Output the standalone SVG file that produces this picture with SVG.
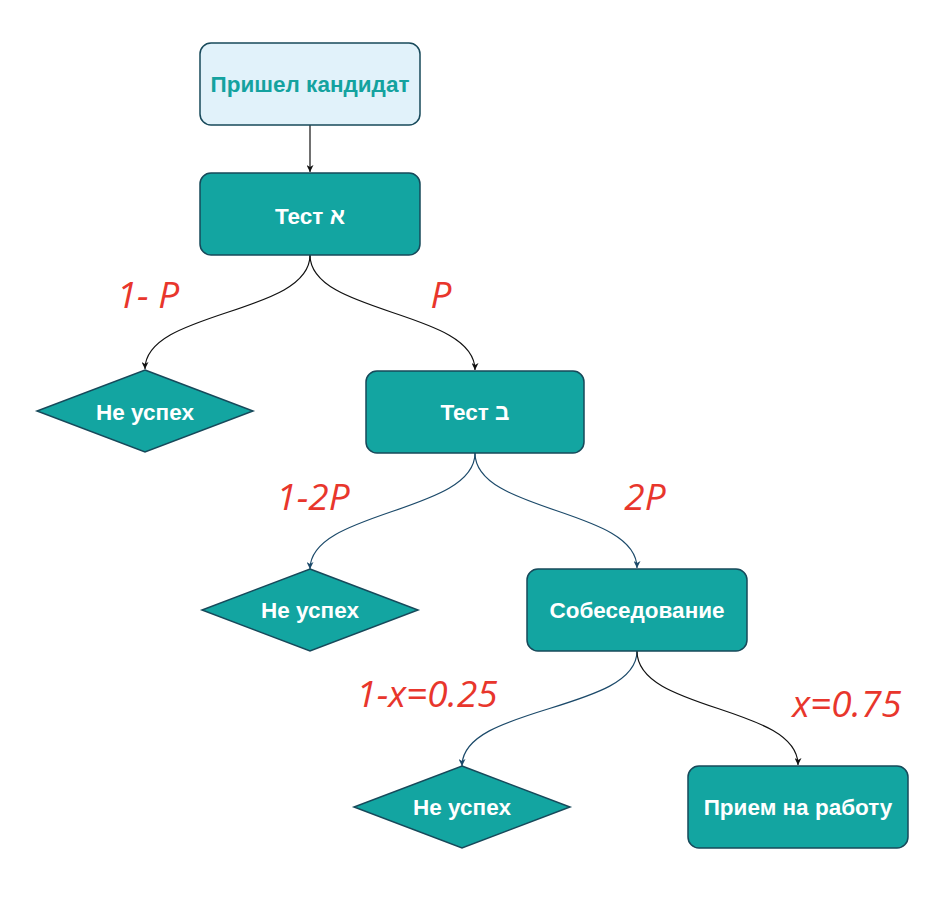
<svg xmlns="http://www.w3.org/2000/svg" width="948" height="897" viewBox="0 0 948 897">
<style>
.box{fill:#13a5a1;stroke:#17495a;stroke-width:1.5}
.start{fill:#e1f2fa;stroke:#17495a;stroke-width:1.5}
.t{font-family:"Liberation Sans",Arial,sans-serif;font-weight:bold;font-size:22.5px;fill:#fff;text-anchor:middle;dominant-baseline:central}
.ts{fill:#14a29f}
.lbl{font-family:"Open Sans","Noto Sans",sans-serif;font-style:italic;font-size:37px;fill:#e8362c;text-anchor:middle}
.c{fill:none;stroke:#111;stroke-width:1.2}
.cb{fill:none;stroke:#1c4a6a;stroke-width:1.2}
</style>
<defs>
<marker id="ah" viewBox="0 0 10 10" refX="10" refY="5" markerWidth="7" markerHeight="7" markerUnits="userSpaceOnUse" orient="auto"><path d="M0,0 L10,5 L0,10 L3,5 Z" fill="#111"/></marker>
<marker id="ahb" viewBox="0 0 10 10" refX="10" refY="5" markerWidth="7" markerHeight="7" markerUnits="userSpaceOnUse" orient="auto"><path d="M0,0 L10,5 L0,10 L3,5 Z" fill="#1c4a6a"/></marker>
</defs>
<rect width="948" height="897" fill="#fff"/>
<g id="connectors">
<path class="c" d="M310,125 L310,172" marker-end="url(#ah)"/>
<path class="c" d="M310,255 C310,315 145,310 145,369" marker-end="url(#ah)"/>
<path class="c" d="M310,255 C310,315 475,310 475,370" marker-end="url(#ah)"/>
<path class="cb" d="M475,453 C475,513 310,510 310,569" marker-end="url(#ahb)"/>
<path class="cb" d="M475,453 C475,513 637,508 637,568" marker-end="url(#ahb)"/>
<path class="cb" d="M637,651 C637,712 462,705 462,766" marker-end="url(#ahb)"/>
<path class="c" d="M637,651 C637,712 798,705 798,765" marker-end="url(#ah)"/>
</g>
<g id="labels">
<text class="lbl" x="148" y="308">1- P</text>
<text class="lbl" x="441" y="308">P</text>
<text class="lbl" x="313" y="510">1-2P</text>
<text class="lbl" x="645" y="510">2P</text>
<text class="lbl" x="427" y="707">1-x=0.25</text>
<text class="lbl" x="847" y="717">x=0.75</text>
</g>
<g id="n1"><rect class="start" x="200" y="43" width="220" height="82" rx="11"/><text class="t ts" x="310" y="84">Пришел кандидат</text></g>
<g id="n2"><rect class="box" x="200" y="173" width="220" height="82" rx="11"/><text class="t" x="310" y="216">Тест א</text></g>
<g id="n3"><polygon class="box" points="145,370 253,411 145,452 37,411"/><text class="t" x="145" y="412">Не успех</text></g>
<g id="n4"><rect class="box" x="366" y="371" width="218" height="82" rx="11"/><text class="t" x="475" y="412">Тест ב</text></g>
<g id="n5"><polygon class="box" points="310,569 418,610 310,651 202,610"/><text class="t" x="310" y="610">Не успех</text></g>
<g id="n6"><rect class="box" x="527" y="569" width="220" height="82" rx="11"/><text class="t" x="637" y="610">Собеседование</text></g>
<g id="n7"><polygon class="box" points="462,766 570,807 462,848 354,807"/><text class="t" x="462" y="807">Не успех</text></g>
<g id="n8"><rect class="box" x="688" y="766" width="220" height="82" rx="11"/><text class="t" x="798" y="807">Прием на работу</text></g>
</svg>
